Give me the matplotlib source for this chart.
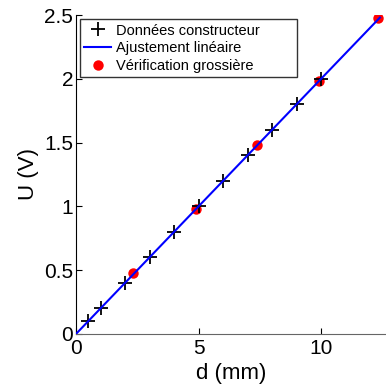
import matplotlib
matplotlib.use("Agg")
import matplotlib.pyplot as plt
import numpy as np

plt.rcParams['font.family'] = ['Liberation Sans', 'DejaVu Sans']

# donnees constructeur
d_cons = [0.5, 1, 2, 3, 4, 5, 6, 7, 8, 9, 10]
U_cons = [0.1, 0.2, 0.4, 0.6, 0.8, 1.0, 1.2, 1.4, 1.6, 1.8, 2.0]

# verification grossiere
d_verif = [2.34, 4.9, 7.37, 9.92, 12.31]
U_verif = [0.48, 0.98, 1.48, 1.98, 2.48]

# ajustement lineaire U = a*d + b
a_fit = 0.2
b_fit = 0.0
d_fit = [0, 12.4]

fig = plt.figure(figsize=(3.86, 3.86), dpi=100)
ax = fig.add_axes([0.197, 0.135, 0.803, 0.826])

ax.plot(d_cons, U_cons, '+', color='black', markersize=10.5, markeredgewidth=1.3,
        label=u'Données constructeur', zorder=3)
d_line = np.array(d_fit)
ax.plot(d_line, a_fit * d_line + b_fit, '-', color='blue', linewidth=1.5,
        label=u'Ajustement linéaire', zorder=4)
ax.plot(d_verif, U_verif, 'o', color='red', markersize=7.5, markeredgewidth=0,
        label=u'Vérification grossière', zorder=2)

ax.set_xlim(0, 12.65)
ax.set_ylim(0, 2.5)
ax.set_xticks([0, 5, 10])
ax.set_yticks([0, 0.5, 1, 1.5, 2, 2.5])
ax.set_yticklabels(['0', '0.5', '1', '1.5', '2', '2.5'])
ax.tick_params(direction='in', labelsize=15, length=4, pad=2)
ax.tick_params(axis='x', pad=4)
ax.spines['top'].set_visible(False)
ax.spines['right'].set_visible(False)
ax.spines['bottom'].set_color('#666666')
ax.set_xlabel('d (mm)', fontsize=16, labelpad=3)
ax.set_ylabel('U (V)', fontsize=16, labelpad=4)

leg = ax.legend(loc='upper left', bbox_to_anchor=(0.013, 0.0, 0.70, 0.987),
                mode='expand', fontsize=10.5, frameon=True, fancybox=False,
                edgecolor='black', borderpad=0.3, labelspacing=0.25,
                handlelength=1.85, handletextpad=0.3, borderaxespad=0.0)
leg.get_frame().set_linewidth(1.0)

plt.savefig('out.png', dpi=100)
